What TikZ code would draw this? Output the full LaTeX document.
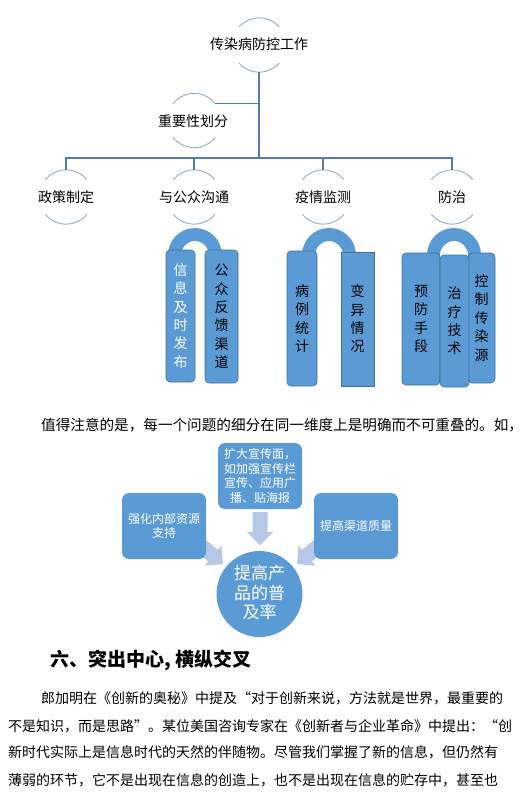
\documentclass[tikz,border=0pt]{standalone}
\usepackage{fontspec}
\setmainfont{Noto Sans CJK SC}
\XeTeXlinebreaklocale "zh"
\XeTeXlinebreakskip=0pt plus 3pt minus 1pt
\usetikzlibrary{calc}
\definecolor{lineblue}{RGB}{82,122,170}
\definecolor{arcgray}{RGB}{150,172,198}
\definecolor{barblue}{RGB}{91,155,213}
\definecolor{bardark}{RGB}{65,113,156}
\definecolor{arrowblue}{RGB}{182,200,230}
\newcommand\fs[2]{\fontsize{#1}{#2}\selectfont}
\newcommand\tarcs[2]{%
  \draw[arcl] (#1.#2) arc[start angle=-#2, end angle=-180+#2, radius=27];
  \draw[arcl] (#1.-#2) arc[start angle=#2, end angle=180-#2, radius=27];}
\newcommand\blkarrow[3]{%
  \begin{scope}[shift={(#1,#2)}, rotate=#3]
    \fill[blk] (-33,-7.5) -- (-13,-7.5) -- (-13,-13) -- (0,0) -- (-13,13) -- (-13,7.5) -- (-33,7.5) -- cycle;
  \end{scope}}
\newcommand\halfring[2]{%
  \fill[ring] (#1-27,#2) arc[start angle=180, end angle=360, radius=27]
    -- (#1+14,#2) arc[start angle=0, end angle=-180, radius=14] -- cycle;}
\tikzset{
  conn/.style={draw=lineblue, line width=1.3pt},
  arcl/.style={draw=arcgray, line width=0.9pt},
  circ/.style={circle, minimum size=54pt, inner sep=0pt, draw=none},
  lbl/.style={font=\fs{14}{16}, inner sep=0pt},
  bar/.style={draw=bardark, fill=barblue, line width=0.6pt, rounded corners=4pt, inner sep=0pt, align=center, font=\fs{14}{18.4}},
  box/.style={fill=barblue, rounded corners=7pt, inner sep=0pt, align=center, text=white, minimum width=84pt, minimum height=66pt, font=\fs{12}{14.7}},
  ring/.style={fill=barblue},
  blk/.style={fill=arrowblue},
  body/.style={font=\fs{14}{16}, inner sep=0pt, anchor=west},
}
\begin{document}
\begin{tikzpicture}[x=1pt,y=-1pt]
\useasboundingbox[fill=white] (0,0) rectangle (525,805);

% ---------- tree ----------
\node[circ] (rootc) at (259,45) {};
\node[lbl] (root) at (259,44) {传染病防控工作};
\node[circ] (impc) at (194,120.5) {};
\node[lbl] (imp) at (193,121) {重要性划分};
\node[circ] (c1c) at (66,197) {};
\node[circ] (c2c) at (194,197) {};
\node[circ] (c3c) at (323,197) {};
\node[circ] (c4c) at (452,197) {};
\node[lbl] (c1) at (66,197) {政策制定};
\node[lbl] (c2) at (194,197) {与公众沟通};
\node[lbl] (c3) at (323,197) {疫情监测};
\node[lbl] (c4) at (452,197) {防治};

\tarcs{rootc}{42}
\tarcs{impc}{38}
\tarcs{c1c}{40}
\tarcs{c2c}{40}
\tarcs{c3c}{40}
\tarcs{c4c}{40}

\coordinate (bus) at (259,158);
\draw[conn] (rootc.south) -- (bus);
\draw[conn] (impc.38) -- (impc.38 -| bus);
\draw[conn] (c1c.north) -- (c1c.north |- bus) -- (c4c.north |- bus) -- (c4c.north);
\draw[conn] (c2c.north) -- (c2c.north |- bus);
\draw[conn] (c3c.north) -- (c3c.north |- bus);

% ---------- rings and bars ----------
\halfring{195}{255}
\halfring{329}{255}
\halfring{454}{255}

\node[bar, minimum width=29pt, minimum height=132pt, text=white] (b11) at (180.5,316) {信\\息\\及\\时\\发\\布};
\node[bar, minimum width=33pt, minimum height=133pt] (b12) at (221.5,316.5) {公\\众\\反\\馈\\渠\\道};
\node[bar, minimum width=30pt, minimum height=135pt] (b21) at (302,318.5) {病\\例\\统\\计};
\node[bar, rounded corners=0pt, minimum width=33pt, minimum height=134pt] (b22) at (357.5,319) {变\\异\\情\\况};
\node[bar, minimum width=38pt, minimum height=132pt] (b31) at (421,319) {预\\防\\手\\段};
\node[bar, minimum width=27pt, minimum height=130pt] (b33) at (481.5,318) {控\\制\\传\\染\\源};
\node[bar, minimum width=29pt, minimum height=132pt] (b32) at (454.5,321) {治\\疗\\技\\术};

% ---------- paragraph ----------
\node[body, font=\fs{14.6}{16}] (p0) at (41,425) {值得注意的是，每一个问题的细分在同一维度上是明确而不可重叠的。如，};

% ---------- second diagram ----------
\blkarrow{223}{564}{-40}
\blkarrow{297}{564}{-140}
\blkarrow{260}{545}{-90}
\node[box] (top) at (260,476) {扩大宣传面，\\如加强宣传栏\\宣传、应用广\\播、贴海报};
\node[box] (left) at (164,526) {强化内部资源\\支持};
\node[box] (right) at (356,526) {提高渠道质量};
\node[circle, fill=barblue, minimum size=86pt, inner sep=0pt] (goal) at (259.5,594) {};
\node[align=center, text=white, font=\fs{17}{19.5}, inner sep=0pt] (goalt) at (259.5,593) {提高产\\品的普\\及率};

% ---------- heading and body ----------
\node[body, font=\bfseries\fs{19}{21}] (h6) at (50,660) {六、突出中心, 横纵交叉};
\node[body] (l1) at (41,698) {\makebox[464.5pt][s]{郎加明在《创新的奥秘》中提及“对于创新来说，方法就是世界，最重要的}};
\node[body] (l2) at (8,726) {\makebox[497.5pt][s]{不是知识，而是思路”。某位美国咨询专家在《创新者与企业革命》中提出：“创}};
\node[body] (l3) at (8,752.5) {\makebox[497.5pt][s]{新时代实际上是信息时代的天然的伴随物。尽管我们掌握了新的信息，但仍然有}};
\node[body] (l4) at (8,780) {\makebox[497.5pt][s]{薄弱的环节，它不是出现在信息的创造上，也不是出现在信息的贮存中，甚至也}};
\end{tikzpicture}
\end{document}
